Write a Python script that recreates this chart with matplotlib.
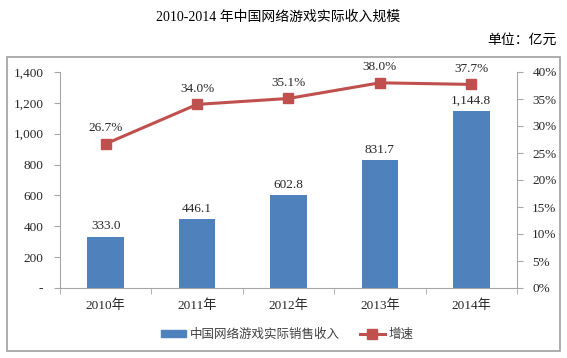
import matplotlib
matplotlib.use("Agg")
import matplotlib.pyplot as plt
from matplotlib.patches import Rectangle
from matplotlib.ticker import FuncFormatter
from matplotlib.lines import Line2D
from matplotlib.patches import Patch

plt.rcParams['font.family'] = ['Liberation Serif', 'Noto Sans CJK SC', 'DejaVu Sans']

categories = ['2010年', '2011年', '2012年', '2013年', '2014年']
revenue = [333.0, 446.1, 602.8, 831.7, 1144.8]
growth = [26.7, 34.0, 35.1, 38.0, 37.7]
left_ticks = [0, 200, 400, 600, 800, 1000, 1200, 1400]
right_ticks = [0, 5, 10, 15, 20, 25, 30, 35, 40]

bar_color = '#4F81BD'
line_color = '#C0504D'
axis_color = '#A6A6A6'
text_color = '#262626'

fig = plt.figure(figsize=(5.67, 3.58), dpi=100)
ax = fig.add_axes([60/567, 1-288/358, (517-60)/567, (288-72)/358])
ax2 = ax.twinx()

x = list(range(len(categories)))
ax.bar(x, revenue, width=0.4, color=bar_color, zorder=2)
for xi, v in zip(x, revenue):
    ax.annotate(f'{v:,.1f}', (xi, v), xytext=(0, 3), textcoords='offset points',
                ha='center', va='bottom', fontsize=9.5, color=text_color)

ax.set_xlim(-0.5, len(categories)-0.5)
ax.set_ylim(0, 1400)
ax.set_yticks(left_ticks)
ax.yaxis.set_major_formatter(FuncFormatter(lambda v, p: '-' if v == 0 else f'{v:,.0f}'))
ax.set_xticks(x)
ax.set_xticklabels(categories)
ax.set_xticks([i - 0.5 for i in range(len(categories)+1)], minor=True)
ax.tick_params(axis='x', which='major', length=0, pad=8, labelsize=9.5, colors=text_color)
ax.tick_params(axis='x', which='minor', length=4, color=axis_color, direction='out')
ax.tick_params(axis='y', length=4, color=axis_color, labelsize=9.5, labelcolor=text_color, pad=8)

ax2.plot(x, growth, color=line_color, lw=2.2, marker='s', markersize=7.5, zorder=3)
for xi, g in zip(x, growth):
    ax2.annotate(f'{g:.1f}%', (xi, g), xytext=(0, 7), textcoords='offset points',
                 ha='center', va='bottom', fontsize=9.5, color=text_color)
ax2.set_ylim(0, 40)
ax2.set_yticks(right_ticks)
ax2.yaxis.set_major_formatter(FuncFormatter(lambda v, p: f'{v:.0f}%'))
ax2.tick_params(axis='y', length=4, color=axis_color, labelsize=9.5, labelcolor=text_color, pad=7)

for a in (ax, ax2):
    a.spines['top'].set_visible(False)
    for s in ('left', 'right', 'bottom'):
        a.spines[s].set_color(axis_color)
ax.spines['right'].set_visible(False)
ax2.spines['left'].set_visible(False)
ax2.spines['bottom'].set_visible(False)

handles = [Patch(color=bar_color), Line2D([], [], color=line_color, lw=2.2, marker='s', markersize=7)]
leg = fig.legend(handles, ['中国网络游戏实际销售收入', '增速'], loc='center',
                 bbox_to_anchor=(287/567, 1-335/358), ncol=2, frameon=False,
                 fontsize=9, handlelength=2.0, handleheight=0.5, columnspacing=1.6,
                 handletextpad=0.3)
for t in leg.get_texts():
    t.set_color('#404040')

fig.text(0.49, 1-17/358, '2010-2014 年中国网络游戏实际收入规模', ha='center', va='center',
         fontsize=10, color='black')
fig.text(557/567, 1-40/358, '单位：亿元', ha='right', va='center', fontsize=10, color='black')

fig.patches.append(Rectangle((7/567, 1-351/358), 553/567, 294/358, transform=fig.transFigure,
                             fill=False, edgecolor='#A0A0A0', lw=1.2))

fig.savefig('out.png', dpi=100)
